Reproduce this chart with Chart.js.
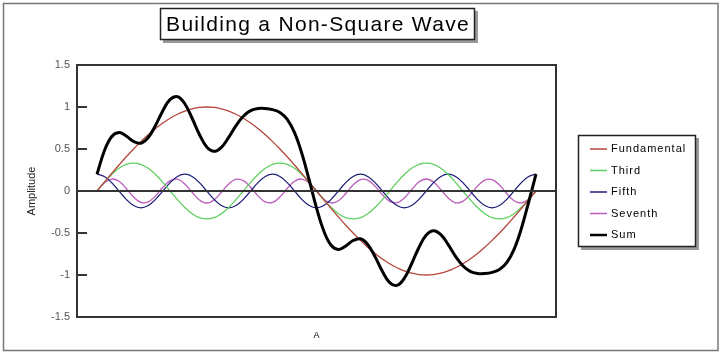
<!DOCTYPE html>
<html><head><meta charset="utf-8">
<style>html,body{margin:0;padding:0;background:#fff;}#wrap{width:720px;height:355px;}</style>
<script src="https://cdn.jsdelivr.net/npm/chart.js@4.4.1/dist/chart.umd.min.js"></script>
</head><body><div id="wrap"><canvas id="c" width="720" height="355"></canvas></div>
<script>
const chartTitle = 'Building a Non-Square Wave';
const xTitle = 'A';
const yTitle = 'Amplitude';
const yTickValues = [-1.5, -1, -0.5, 0, 0.5, 1, 1.5];
const seriesNames = ['Fundamental', 'Third', 'Fifth', 'Seventh', 'Sum'];

const angles = [0,6,12,18,24,30,36,42,48,54,60,66,72,78,84,90,96,102,108,114,120,126,132,138,144,150,156,162,168,174,180,186,192,198,204,210,216,222,228,234,240,246,252,258,264,270,276,282,288,294,300,306,312,318,324,330,336,342,348,354,360];

const fundamental = [0,.105,.208,.309,.407,.5,.588,.669,.743,.809,.866,.914,.951,.978,.995,1,.995,.978,.951,.914,.866,.809,.743,.669,.588,.5,.407,.309,.208,.105,0,-.105,-.208,-.309,-.407,-.5,-.588,-.669,-.743,-.809,-.866,-.914,-.951,-.978,-.995,-1,-.995,-.978,-.951,-.914,-.866,-.809,-.743,-.669,-.588,-.5,-.407,-.309,-.208,-.105,0];

const third = [0,.103,.196,.270,.317,.333,.317,.270,.196,.103,0,-.103,-.196,-.270,-.317,-.333,-.317,-.270,-.196,-.103,
0,.103,.196,.270,.317,.333,.317,.270,.196,.103,0,-.103,-.196,-.270,-.317,-.333,-.317,-.270,-.196,-.103,
0,.103,.196,.270,.317,.333,.317,.270,.196,.103,0,-.103,-.196,-.270,-.317,-.333,-.317,-.270,-.196,-.103,0];

const fifth = [.2,.173,.1,0,-.1,-.173,-.2,-.173,-.1,0,.1,.173,
.2,.173,.1,0,-.1,-.173,-.2,-.173,-.1,0,.1,.173,
.2,.173,.1,0,-.1,-.173,-.2,-.173,-.1,0,.1,.173,
.2,.173,.1,0,-.1,-.173,-.2,-.173,-.1,0,.1,.173,
.2,.173,.1,0,-.1,-.173,-.2,-.173,-.1,0,.1,.173,.2];

const seventh = [0,.096,.142,.116,.030,-.071,-.136,-.130,-.058,.044,.124,.140,.084,-.015,-.106,-.143,-.106,-.015,.084,.140,.124,.044,-.058,-.130,-.136,-.071,.030,.116,.142,.096,0,-.096,-.142,-.116,-.030,.071,.136,.130,.058,-.044,-.124,-.140,-.084,.015,.106,.143,.106,.015,-.084,-.140,-.124,-.044,.058,.130,.136,.071,-.030,-.116,-.142,-.096,0];

const sum = [.200,.477,.646,.695,.654,.589,.569,.636,.781,.956,1.090,1.124,1.039,.866,.672,.524,.472,.520,.639,.778,.890,.956,.981,.982,.969,.935,.854,.695,.446,.131,-.200,-.477,-.646,-.695,-.654,-.589,-.569,-.636,-.781,-.956,-1.090,-1.124,-1.039,-.866,-.672,-.524,-.472,-.520,-.639,-.778,-.890,-.956,-.981,-.982,-.969,-.935,-.854,-.695,-.446,-.131,.200];

const FONT = '"Liberation Sans", Arial, sans-serif';
const colors = ['#b4463c', '#5fcf5f', '#1e1e78', '#bb5cbb', '#000000'];
const widths = [1.3, 1.3, 1.3, 1.3, 3];
const seriesValues = [fundamental, third, fifth, seventh, sum];

const datasets = seriesValues.map((vals, i) => ({
  label: seriesNames[i],
  data: vals.map((v, j) => ({x: angles[j], y: v})),
  borderColor: colors[i],
  backgroundColor: colors[i],
  borderWidth: widths[i],
  pointRadius: 0,
  tension: 0.4,
  fill: false,
  order: i === 4 ? 0 : 1
}));

const decor = {
  id: 'decor',
  beforeDraw(chart) {
    const ctx = chart.ctx;
    ctx.save();
    ctx.fillStyle = '#fff';
    ctx.fillRect(0, 0, chart.width, chart.height);
    ctx.restore();
  },
  afterDatasetsDraw(chart) {
    const ctx = chart.ctx, a = chart.chartArea, y = chart.scales.y;
    ctx.save();
    ctx.strokeStyle = '#333';
    ctx.lineWidth = 2;
    const y0 = Math.round(y.getPixelForValue(0));
    ctx.beginPath(); ctx.moveTo(a.left, y0); ctx.lineTo(a.right, y0); ctx.stroke();
    yTickValues.forEach(v => {
      const py = Math.round(y.getPixelForValue(v));
      ctx.beginPath(); ctx.moveTo(a.left, py); ctx.lineTo(a.left + 10, py); ctx.stroke();
    });
    ctx.strokeRect(a.left, a.top, a.right - a.left, a.bottom - a.top);
    ctx.restore();
  },
  afterDraw(chart) {
    const ctx = chart.ctx;
    ctx.save();
    // outer frame
    ctx.strokeStyle = '#777'; ctx.lineWidth = 1.5;
    ctx.strokeRect(3.5, 3.5, 714.5, 347);
    // title box
    ctx.fillStyle = '#9a9a9a'; ctx.fillRect(163, 11, 315, 32);
    ctx.fillStyle = '#fff'; ctx.fillRect(160, 8, 315, 32);
    ctx.strokeStyle = '#222'; ctx.lineWidth = 1.5; ctx.strokeRect(160.5, 8.5, 314, 31);
    ctx.fillStyle = '#000';
    ctx.font = '21px ' + FONT;
    ctx.letterSpacing = '1.3px';
    ctx.textAlign = 'center'; ctx.textBaseline = 'middle';
    ctx.fillText(chartTitle, 318, 25);
    // legend box
    ctx.fillStyle = '#9a9a9a'; ctx.fillRect(581, 138, 118, 112);
    ctx.fillStyle = '#fff'; ctx.fillRect(578, 135, 118, 112);
    ctx.strokeStyle = '#222'; ctx.lineWidth = 1.5; ctx.strokeRect(578.5, 135.5, 117, 111);
    ctx.font = '11px ' + FONT;
    ctx.letterSpacing = '1px';
    ctx.textAlign = 'left'; ctx.textBaseline = 'middle';
    chart.data.datasets.forEach((ds, i) => {
      const ry = 149 + i * 21.5;
      ctx.strokeStyle = ds.borderColor;
      ctx.lineWidth = i === 4 ? 2.5 : 1.5;
      ctx.beginPath(); ctx.moveTo(590, ry); ctx.lineTo(607, ry); ctx.stroke();
      ctx.fillStyle = '#000';
      ctx.fillText(ds.label, 611, ry);
    });
    ctx.restore();
  }
};

new Chart(document.getElementById('c'), {
  type: 'line',
  data: { datasets },
  plugins: [decor],
  options: {
    responsive: false,
    devicePixelRatio: 1,
    animation: false,
    layout: { padding: { left: 0, top: 65, right: 164, bottom: 0 } },
    plugins: { legend: { display: false }, title: { display: false }, tooltip: { enabled: false } },
    scales: {
      x: {
        type: 'linear', min: -16.4, max: 376.4,
        ticks: { display: false },
        grid: { display: false, drawTicks: false },
        border: { display: false },
        title: { display: true, text: xTitle, color: '#000', font: { family: FONT, size: 9 }, padding: { top: 0, bottom: 14 } },
        afterFit(s) { s.height = 38; }
      },
      y: {
        type: 'linear', min: -1.5, max: 1.5,
        afterBuildTicks(s) { s.ticks = yTickValues.map(v => ({ value: v })); },
        ticks: { color: '#555', font: { family: FONT, size: 11 }, padding: 7, callback: v => String(v) },
        grid: { display: false, drawTicks: false },
        border: { display: false },
        title: { display: true, text: yTitle, color: '#222', font: { family: FONT, size: 11 }, padding: { top: 25, bottom: 0 } },
        afterFit(s) { s.width = 77; }
      }
    }
  }
});
</script>
</body></html>
